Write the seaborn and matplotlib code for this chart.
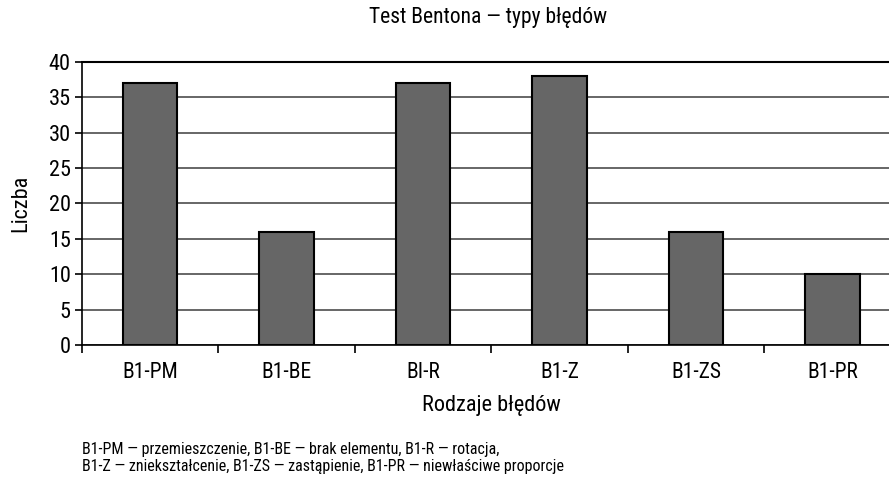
import matplotlib
matplotlib.use('Agg')
import matplotlib.pyplot as plt
import numpy as np
import pandas as pd
import seaborn as sns
import logging
from matplotlib.ticker import FixedLocator

logging.getLogger('matplotlib.font_manager').setLevel(logging.ERROR)

categories = ['B1-PM', 'B1-BE', 'BI-R', 'B1-Z', 'B1-ZS', 'B1-PR']
counts = [37, 16, 37, 38, 16, 10]

title = 'Test Bentona \u2014 typy błędów'
xlabel = 'Rodzaje błędów'
ylabel = 'Liczba'
footnote = ('B1-PM \u2014 przemieszczenie, B1-BE \u2014 brak elementu, B1-R \u2014 rotacja,\n'
            'B1-Z \u2014 zniekształcenie, B1-ZS \u2014 zastąpienie, B1-PR \u2014 niewłaściwe proporcje')

sns.set_theme(style='white')
plt.rcParams['font.family'] = ['Roboto Condensed', 'Archivo Narrow', 'Fira Sans Condensed',
                               'Sofia Sans Condensed', 'DejaVu Sans']

df = pd.DataFrame({'kat': categories, 'liczba': counts})

fig = plt.figure(figsize=(8.89, 4.8), dpi=100)
# plot area runs a little past the right edge, as in the reference
ax = fig.add_axes([0.0922, 0.28125, 0.921, 0.5896])

sns.barplot(data=df, x='kat', y='liczba', color='#666666', saturation=1,
            edgecolor='black', linewidth=1.5, width=0.4, ax=ax, zorder=3)

ax.set_ylim(0, 40)
ax.set_xlim(-0.5, len(categories) - 0.5)
ax.set_yticks(np.arange(0, 41, 5))
ax.yaxis.grid(True, color='#4d4d4d', linewidth=1.2, zorder=0)
ax.xaxis.grid(False)

ax.spines['right'].set_visible(False)
ax.spines['top'].set_color('black')
ax.spines['top'].set_linewidth(1.5)
ax.spines['left'].set_color('black')
ax.spines['bottom'].set_color('black')
ax.spines['left'].set_linewidth(1.2)
ax.spines['bottom'].set_linewidth(1.2)

ax.tick_params(axis='y', which='major', left=True, length=5, width=1.2,
               color='black', labelsize=16, pad=3, labelcolor='black')
ax.tick_params(axis='x', which='major', bottom=False, labelsize=15.5, pad=6,
               labelcolor='black')
# category separators below the axis
ax.xaxis.set_minor_locator(FixedLocator(np.arange(-0.5, len(categories), 1.0)))
ax.tick_params(axis='x', which='minor', bottom=True, length=6, width=1.2,
               color='black')

ax.set_xlabel(xlabel, fontsize=16, color='black')
ax.set_ylabel(ylabel, fontsize=16, color='black')
ax.xaxis.set_label_coords((492 - 82) / (901 - 82), -(405 - 345) / 283, transform=ax.transAxes)
ax.xaxis.label.set_va('center')
ax.yaxis.set_label_coords(-(82 - 21) / 819, 0.5)
ax.yaxis.label.set_va('center')

fig.text(488 / 889, 1 - 18 / 480, title, ha='center', va='center',
         fontsize=15.5, color='black')
fig.text(82 / 889, 1 - 458 / 480, footnote, ha='left', va='center',
         fontsize=11.5, color='black', linespacing=1.1)

fig.savefig('out.png', dpi=100)
